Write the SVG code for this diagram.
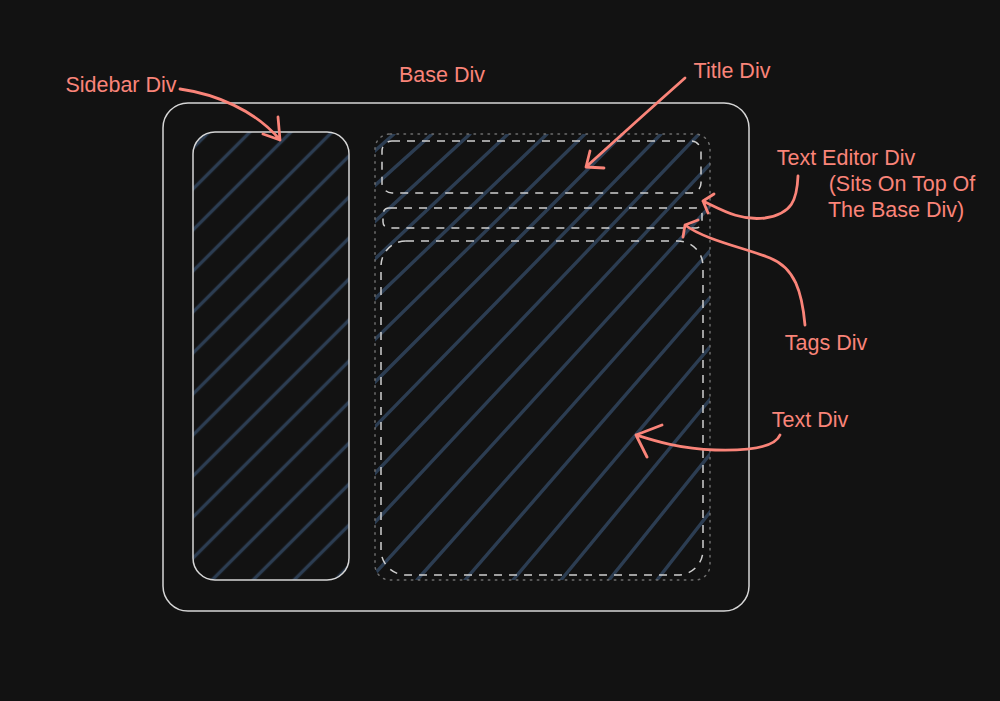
<svg xmlns="http://www.w3.org/2000/svg" width="1000" height="701" viewBox="0 0 1000 701">
<style>
.solid{fill:none;stroke:#d6d6d6;stroke-width:1.5}
.dotted{fill:none;stroke:#6e6e6e;stroke-width:1.5;stroke-dasharray:1.5 5.5;stroke-linecap:round}
.dashed{fill:none;stroke:#cfcfcf;stroke-width:1.5;stroke-dasharray:8 7}
.hatch{stroke:#2c3d52;stroke-width:3.4;fill:none;stroke-linecap:round}
.lbl{font-family:"Liberation Sans",Arial,sans-serif;font-size:21.5px;fill:#fa8479;text-anchor:middle}
.arrow{fill:none;stroke:#fa8479;stroke-width:2.8;stroke-linecap:round;stroke-linejoin:round}
</style>
<defs>
<clipPath id="clipSide"><rect x="193" y="132" width="156" height="448" rx="22"/></clipPath>
<clipPath id="clipEditor"><rect x="375" y="134" width="335" height="446" rx="15"/></clipPath>
<pattern id="hatchSide" patternUnits="userSpaceOnUse" x="-14.5" y="0" width="29" height="20" patternTransform="translate(290,133) rotate(45)">
<line x1="14.5" y1="-5" x2="14.5" y2="25" stroke="#2c3d52" stroke-width="3.4"/>
</pattern>
</defs>
<rect width="1000" height="701" fill="#121212"/>

<g id="base-div">
<rect class="solid" x="163" y="103" width="586" height="508" rx="25"/>
<text class="lbl" x="442" y="82">Base Div</text>
</g>

<g id="sidebar-div">
<rect x="193" y="132" width="156" height="448" rx="22" fill="url(#hatchSide)"/>
<rect class="solid" x="193" y="132" width="156" height="448" rx="22"/>
<text class="lbl" x="121" y="92">Sidebar Div</text>
</g>

<g id="text-editor-div">
<g clip-path="url(#clipEditor)" class="hatch">
<path d="M-111,580L394,134M-63,580L432,134M-15,580L470,134M33,580L508,134M81,580L547,134M129,580L585,134M177,580L623,134M225,580L661,134M273,580L699,134M321,580L738,134M369,580L776,134M417,580L814,134M465,580L852,134M513,580L890,134M561,580L929,134M609,580L967,134M657,580L1005,134M705,580L1043,134"/>
</g>
<rect class="dotted" x="375" y="134" width="335" height="446" rx="15"/>
<text class="lbl" x="846" y="165">Text Editor Div</text>
<text class="lbl" x="902" y="191">(Sits On Top Of</text>
<text class="lbl" x="896" y="217">The Base Div)</text>
</g>

<g id="title-div">
<rect class="dashed" x="382" y="141" width="319" height="52" rx="10"/>
<text class="lbl" x="732" y="78">Title Div</text>
</g>

<g id="tags-div">
<rect class="dashed" x="383" y="208" width="319" height="20" rx="6"/>
<text class="lbl" x="826" y="350">Tags Div</text>
</g>

<g id="text-div">
<rect class="dashed" x="381" y="241" width="322" height="334" rx="25"/>
<text class="lbl" x="810" y="427">Text Div</text>
</g>

<g id="connectors">
<path class="arrow" d="M180,89 C215,94 255,110 280,140 M278,117 L280,140 L263,134"/>
<path class="arrow" d="M685,78 Q640,118 586,167 M604,168 L586,167 L590,151"/>
<path class="arrow" d="M798,176 C797,200 792,214 765,218 C740,221 722,210 703,201 M714,194 L703,201 L708,213"/>
<path class="arrow" d="M805,325 C802,292 795,268 770,258 C745,248 705,240 685,225 M698,220 L685,225 L683,237"/>
<path class="arrow" d="M780,435 C775,447 750,451 715,450 C680,449 655,441 636,435 M662,425 L636,435 L647,457"/>
</g>
</svg>
